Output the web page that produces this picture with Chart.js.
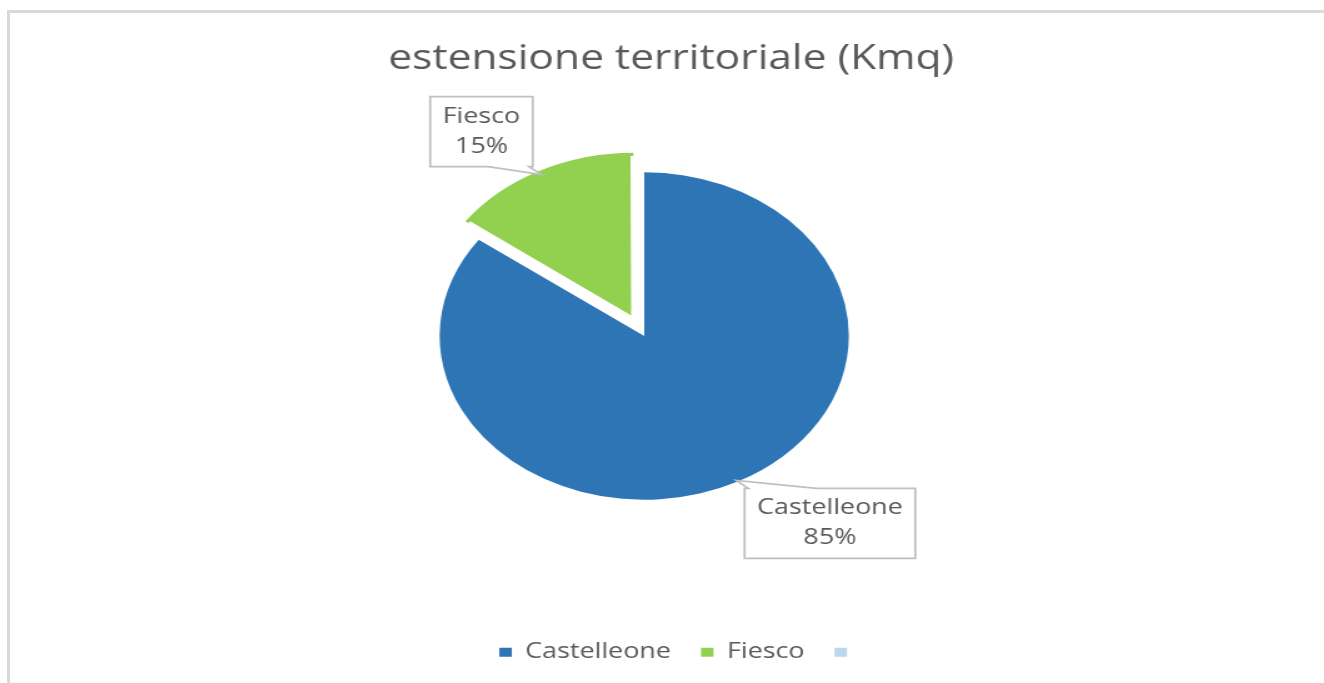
<!DOCTYPE html>
<html>
<head>
<meta charset="utf-8">
<script src="https://cdn.jsdelivr.net/npm/chart.js@4"></script>
<style>
  html, body { margin: 0; padding: 0; overflow: hidden; background: #fff; }
  body { width: 1324px; height: 683px; position: relative; }
  #frame { position: absolute; left: 7px; top: 10px; width: 1400px; height: 800px;
           border-left: 3px solid #d9d9d9; border-top: 3px solid #d9d9d9; }
  /* the reference is stretched sideways, so the canvas is too */
  #wrap { position: absolute; left: 8px; top: 0; transform: scaleX(1.25); transform-origin: 0 0; }
</style>
</head>
<body>
<div id="frame"></div>
<div id="wrap"><canvas id="pie" width="1061" height="683"></canvas></div>
<script>
const chartTitle = 'estensione territoriale (Kmq)';
const categories = ['Castelleone', 'Fiesco', ''];
const shares     = [85, 15, 0];
const colours    = ['#2E75B6', '#92D050', '#BDD7EE'];

const textGrey = '#595959';

// move the pie centre (and nudge the legend) independently from the title
const nudge = {
  id: 'nudge',
  afterLayout(chart, args, opts) {
    const a = chart.chartArea;
    const dx = opts.x - (a.left + a.right) / 2;
    const dy = opts.y - (a.top + a.bottom) / 2;
    a.left += dx; a.right += dx;
    a.top += dy; a.bottom += dy;
    if (chart.legend) {
      chart.legend.left += opts.legendX;
      chart.legend.right += opts.legendX;
    }
  }
};

// Excel-like data callouts: box with a little tail pointing at the slice
const callouts = {
  id: 'callouts',
  afterDatasetsDraw(chart, args, opts) {
    const ctx = chart.ctx;
    const data = chart.data.datasets[0].data;
    const total = data.reduce((a, b) => a + b, 0);
    ctx.save();
    ctx.font = opts.font;
    chart.getDatasetMeta(0).data.forEach((arc, i) => {
      if (!data[i]) return;
      const p = arc.getProps(['x', 'y', 'startAngle', 'endAngle', 'outerRadius'], true);
      const mid = (p.startAngle + p.endAngle) / 2;
      const circ = p.endAngle - p.startAngle;
      // where the (exploded, white-edged) slice really ends along its middle
      const shift = (arc.options.offset || 0) / 4;
      const grow = shift * (1 - Math.sin(Math.min(Math.PI, circ)));
      const edge = arc.options.borderAlign === 'inner' ? (arc.options.borderWidth || 0) : 0;
      const r = shift + p.outerRadius + grow - edge - 2;
      const tip = { x: p.x + Math.cos(mid) * r, y: p.y + Math.sin(mid) * r };

      const lines = [chart.data.labels[i], Math.round(data[i] / total * 100) + '%'];
      const w = Math.max(...lines.map(t => ctx.measureText(t).width)) + 2 * opts.padX;
      const h = lines.length * opts.lineHeight + 2 * opts.padY;
      const [ox, oy] = opts.offsets[i];
      const cx = tip.x + ox, cy = tip.y + oy;
      const left = cx - w / 2, right = cx + w / 2, top = cy - h / 2, bottom = cy + h / 2;

      const bw = w * 0.4;
      let b1, b2;
      if (tip.x > cx) { b1 = right - 3 - bw; b2 = right - 3; }
      else { b1 = left + 3; b2 = left + 3 + bw; }

      ctx.beginPath();
      if (tip.y > cy) {
        ctx.moveTo(left, top);
        ctx.lineTo(right, top);
        ctx.lineTo(right, bottom);
        ctx.lineTo(b2, bottom);
        ctx.lineTo(tip.x, tip.y);
        ctx.lineTo(b1, bottom);
        ctx.lineTo(left, bottom);
      } else {
        ctx.moveTo(left, top);
        ctx.lineTo(b1, top);
        ctx.lineTo(tip.x, tip.y);
        ctx.lineTo(b2, top);
        ctx.lineTo(right, top);
        ctx.lineTo(right, bottom);
        ctx.lineTo(left, bottom);
      }
      ctx.closePath();
      ctx.fillStyle = '#fff';
      ctx.fill();
      ctx.lineWidth = 1.7;
      ctx.strokeStyle = '#bfbfbf';
      ctx.stroke();

      ctx.fillStyle = opts.color;
      ctx.textAlign = 'center';
      ctx.textBaseline = 'middle';
      lines.forEach((t, k) => {
        ctx.fillText(t, cx, top + opts.padY + opts.lineHeight * (k + 0.5));
      });
    });
    ctx.restore();
  }
};

new Chart(document.getElementById('pie'), {
  type: 'pie',
  data: {
    labels: categories,
    datasets: [{
      data: shares,
      backgroundColor: colours,
      // white inner edge trims the exploded slice back to Excel's size
      borderColor: '#fff',
      borderWidth: [0, 2.3, 0],
      borderAlign: 'inner',
      offset: [0, 72, 0],
      hoverOffset: 0
    }]
  },
  options: {
    responsive: false,
    animation: false,
    radius: 164,
    layout: { padding: { bottom: 10 } },
    plugins: {
      title: {
        display: true,
        text: chartTitle,
        color: textGrey,
        font: { family: 'Open Sans', size: 34, weight: 'normal' },
        padding: { top: 39, bottom: 10 }
      },
      legend: {
        position: 'bottom',
        labels: {
          boxWidth: 10,
          boxHeight: 9,
          padding: 24,
          color: textGrey,
          font: { family: 'Open Sans', size: 21.5 },
          generateLabels: chart =>
            Chart.overrides.doughnut.plugins.legend.labels.generateLabels(chart)
              .map(item => Object.assign(item, { lineWidth: 0 }))
        }
      },
      tooltip: { enabled: false },
      nudge: { x: 509, y: 336, legendX: 7 },
      callouts: {
        font: '21.5px "Open Sans"',
        color: textGrey,
        lineHeight: 30,
        padX: 10,
        padY: 5,
        offsets: [[75, 43], [-48, -43], [0, 0]]
      }
    }
  },
  plugins: [nudge, callouts]
});
</script>
</body>
</html>
